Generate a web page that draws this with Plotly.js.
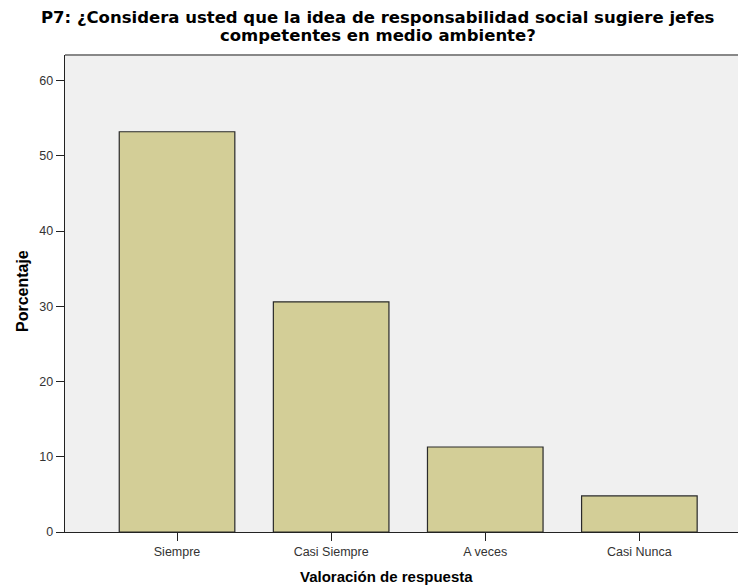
<!DOCTYPE html>
<html>
<head>
<meta charset="utf-8">
<script src="https://cdn.plot.ly/plotly-3.0.1.min.js"></script>
<style>html,body{margin:0;padding:0;background:#fff;}#chart{width:738px;height:586px;}</style>
</head>
<body>
<div id="chart"></div>
<script>
const categories = ["Siempre", "Casi Siempre", "A veces", "Casi Nunca"];
const percentages = [53.2, 30.6, 11.3, 4.8];
const yTicks = [0, 10, 20, 30, 40, 50, 60];
const titleLines = ["P7: ¿Considera usted que la idea de responsabilidad social sugiere jefes", "competentes en medio ambiente?"];
const xTitle = "Valoración de respuesta";
const yTitle = "Porcentaje";

const font = "Liberation Sans, Arial, sans-serif";
const tfont = "DejaVu Sans, sans-serif";
const data = [{
  type: "bar",
  x: [0, 1, 2, 3],
  y: percentages,
  width: 0.75,
  marker: {color: "#d3ce97", line: {color: "#2a2a2a", width: 1.2}},
  hoverinfo: "none"
}];
const layout = {
  width: 738, height: 586,
  margin: {l: 65, r: 0, t: 55, b: 54},
  paper_bgcolor: "#ffffff",
  plot_bgcolor: "#f0f0f0",
  showlegend: false,
  font: {family: font, color: "#222"},
  xaxis: {
    range: [-0.727, 3.64],
    tickvals: [0, 1, 2, 3],
    ticktext: categories,
    ticks: "outside", ticklen: 8, tickcolor: "#222", tickwidth: 1,
    tickfont: {family: font, size: 12.5, color: "#333"},
    showline: true, linecolor: "#222", linewidth: 1.3,
    showgrid: false, zeroline: false, fixedrange: true
  },
  yaxis: {
    range: [0, 63.4],
    tickvals: yTicks,
    ticks: "outside", ticklen: 8, tickcolor: "#222", tickwidth: 1,
    tickfont: {family: font, size: 12.5, color: "#333"},
    showline: true, linecolor: "#222", linewidth: 1.3,
    showgrid: false, zeroline: false, fixedrange: true
  },
  shapes: [{
    type: "line", xref: "paper", yref: "paper", x0: 0, x1: 1, y0: 1, y1: 1,
    line: {color: "#888", width: 2}
  }],
  annotations: [
    {text: "<b>" + titleLines[0] + "</b>", xref: "paper", yref: "paper", x: 0.465, y: 1.0776,
     xanchor: "center", yanchor: "middle", showarrow: false, font: {family: tfont, size: 16.5, color: "#000"}},
    {text: "<b>" + titleLines[1] + "</b>", xref: "paper", yref: "paper", x: 0.465, y: 1.040,
     xanchor: "center", yanchor: "middle", showarrow: false, font: {family: tfont, size: 16.5, color: "#000"}},
    {text: "<b>" + xTitle + "</b>", xref: "paper", yref: "paper", x: 0.477, y: -0.0943,
     xanchor: "center", yanchor: "middle", showarrow: false, font: {family: font, size: 15, color: "#000"}},
    {text: "<b>" + yTitle + "</b>", xref: "paper", yref: "paper", x: -0.064, y: 0.505, textangle: -90,
     xanchor: "center", yanchor: "middle", showarrow: false, font: {family: font, size: 16, color: "#000"}}
  ]
};
Plotly.newPlot("chart", data, layout, {displayModeBar: false, staticPlot: true});
</script>
</body>
</html>
